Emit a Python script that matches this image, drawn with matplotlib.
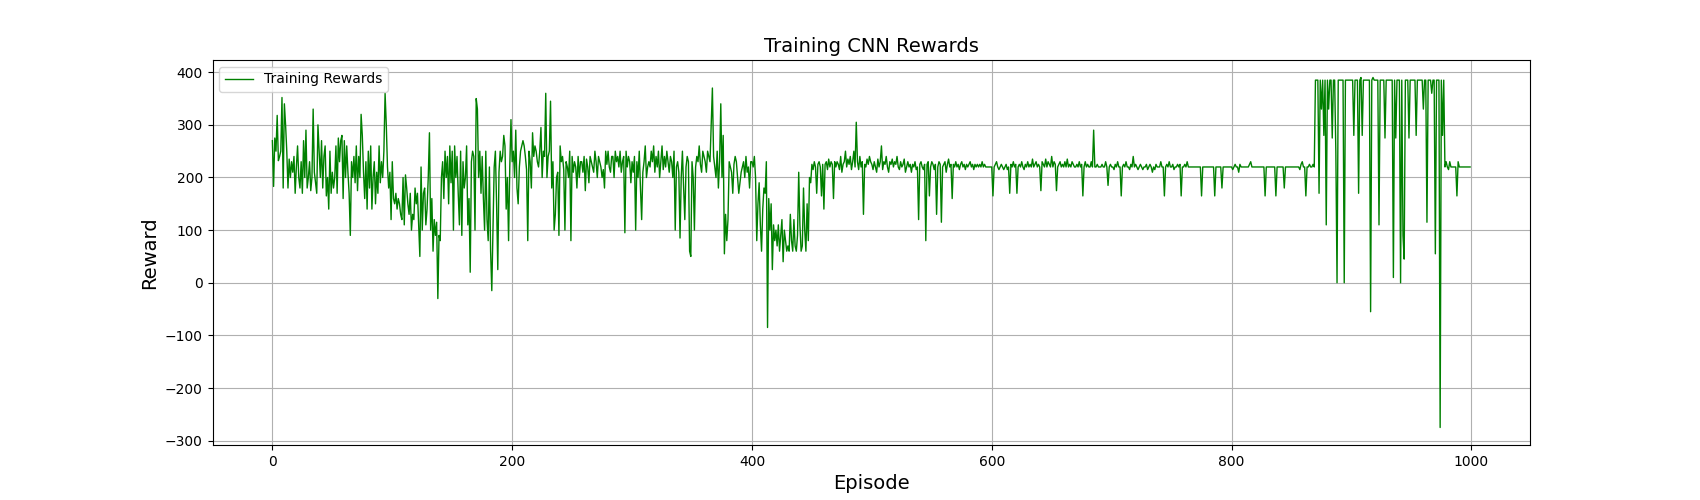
import numpy as np
import matplotlib
matplotlib.use("Agg")
import matplotlib.pyplot as plt

# rewards, in segments of episodes
r_000 = [270,183,275,250,318,232,240,250,352,180,340,300,250,180,235,200,230,210,240,170,
         220,260,200,180,230,170,270,200,290,180,200,230,175,200,330,210,190,170,300,250,
         200,270,180,240,260,165,200,140,250,170,210,180,200,260,170,275,230,270,280,160,
         270,200,260,210,170,90,230,200,240,190,260,175,240,200,320,280,210,160,230,140,
         250,180,260,140,200,230,150,210,170,260,190,230,200,250,360,300,220,180,210,120]
r_100 = [230,160,150,170,140,160,150,130,120,200,110,205,180,150,130,170,100,130,120,180,
         150,170,110,50,220,100,170,180,110,140,200,285,100,160,60,120,90,115,-30,90,
         80,200,230,160,250,200,240,150,260,190]
r_150 = [250,100,260,200,240,170,110,250,90,230,180,200,260,110,160,20,230,250,240,100,
         350,330,200,250,170,240,160,100,250,120,80,220,60,-15,100,220,250,150,25,210,
         250,230,240,280,260,140,200,80,220,310]
r_200 = [230,250,200,290,180,150,220,250,260,270,260,240,215,80,250,230,180,285,240,260,
         250,230,220,250,295,200,250,240,360,200,240,250,345,180,230,100,130,200,210,90,
         260,230,240,215,100,230,220,200,250,80,240,210,230,220,180,240,200,230,230,210]
r_260 = [240,175,235,220,190,240,230,220,210,250, 230,200,240,230,220,200,215,180,250,225,
         250,220,210,240,240,200,250,230,240,220, 250,210,230,240,95,250,220,240,230,190,
         230,210,240,100,230,200,250,180,120,210, 230,260,200,220,230,220,250,230,260,210,
         240,220,250,200,230,260,215,240,220,250, 230,210,240,230,200,250,100,220,230,210,
         85,200,250,180,120,220,240,230,60,50, 230,200,100,220,240,230,260,225,210,250,
         240,230,210,250,240,230,300,370,240,220, 200,250,180,230,340,200,280,55,130,80,
         120,230,220,210,170,225,240,230,200,170, 190,210,220,230,200,240,210,220,180,230]
r_400 = [230,220,240,200,80,150,190,110,60,140, 180,170,230,-85,160,100,150,25,110,80,
         100,70,110,60,90,120,40,100,80,60, 70,60,130,80,60,120,70,60,90,210,
         110,60,70,180,100,60,150,80,200,190]
r_450 = [225,215,230,220,170,225,230,220,165,225, 140,225,230,215,235,220,230,225,160,230,
         220,230,225,215,240,210,225,230,250,220, 235,225,240,215,230,250,220,305,230,215,
         240,220,230,130,225,220,235,225,240,230, 225,215,230,220,210,235,220,230,260,215,
         230,225,240,220,210,230,225,235,220,230, 225,240,220,215,230,220,225,235,210,220,
         230,220,225,210,225,220,230,215,220,120, 225,230,220,215,225,80,225,230,165,220,
         230,225,215,225,130,220,230,225,115,220, 225,230,210,225,235,220,225,160,225,220,
         230,220,225,215,225,230,220,225,215,225, 220,225,230,220,225,215,225,220,225,220,
         225,220,230,220,225,220,220,220,220,220]
r_600 = [220,165,220,225,230,220,215,220,225,220, 215,220,225,215,220,170,225,220,230,220,
         225,170,220,225,220,230,220,215,225,220, 230,220,225,220,235,220,225,230,220,225,
         220,175,230,225,220,235,220,230,225,220, 240,220,230,225,175,220,225,230,220,225,
         220,230,220,235,220,225,220,230,225,220, 220,225,220,230,220,225,165,220,230,220,
         225,220,220,230,220,290,220,220,225,220, 220,220,225,220,220,230,220,185,220,225,
         220,220,215,225,220,230,220,220,165,220, 225,220,230,220,220,215,225,220,240,220,
         225,220,215,220,225,220,215,220,220,225, 215,220,225,220,210,220,215,225,220,220,
         220,230,220,220,165,220,225,220,230,220, 220,225,215,220,220,225,220,225,165,220,
         220,225,220,230,220,220,220,220,220,220, 220,220,220,220,220,165,220,220,220,220,
         220,220,220,220,220,220,165,220,220,220, 220,220,180,220,220,220,220,220,220,220,
         220,215,220,225,220,220,210,225,220,220, 220,220,220,220,220,225,230,220,220,220,
         220,220,220,220,220,220,220,220,165,220, 220,220,220,220,220,220,220,165,220,220,
         220,220,220,220,180,220,220,220,220,220, 220,220,220,220,220,220,220,215,225,230,
         220,220,165,220,220,225,220,220,225,220]
r_870 = [385,385,385,170,385,330,385,280,385,110, 385,330,385,385,275,385,385,250,0,385,
         385,385,385,385,0,385,385,385,385,385, 385,385,280,385,385,385,170,385,390,280,
         385,385,385,385,385,385,-55,385,390,385, 385,385,385,110,385,385,385,385,275,385,
         385,385,385,385,385,10,385,275,385,385, 385,0,385,90,45,385,385,385,275,385,
         385,385,385,385,280,385,385,385,385,385, 330,385,385,115,385,385,385,360,385,385,
         55,385,385,385,-275,385,280,385,220,230, 220,215,230,220,220,220,220,220,165,230,
         220,220,220,220,220,220,220,220,220,220]

rewards = r_000 + r_100 + r_150 + r_200 + r_260 + r_400 + r_450 + r_600 + r_870
episodes = np.arange(len(rewards))

fig, ax = plt.subplots(figsize=(17, 5), dpi=100)
ax.plot(episodes, rewards, color="green", linewidth=1, label="Training Rewards")
ax.set_title("Training CNN Rewards", fontsize=14)
ax.set_xlabel("Episode", fontsize=14)
ax.set_ylabel("Reward", fontsize=14)
ax.grid(True)
ax.legend(loc="upper left")
fig.savefig("out.png")
